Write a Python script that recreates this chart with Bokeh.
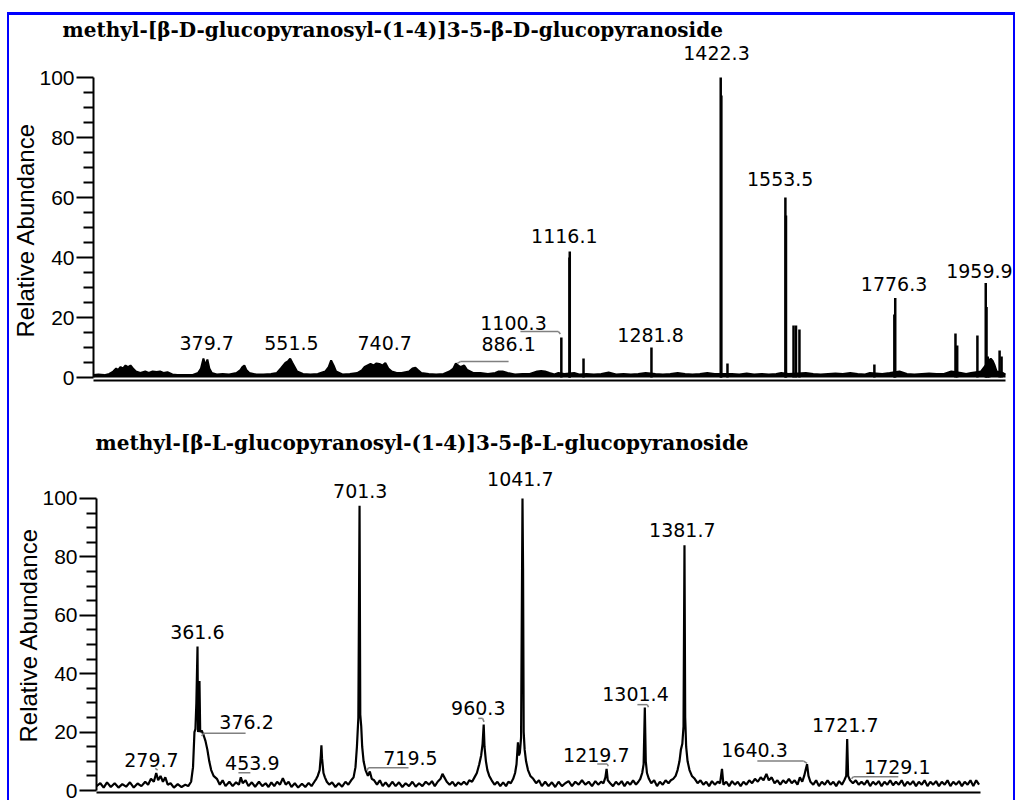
from bokeh.plotting import figure
from bokeh.models import FixedTicker, LabelSet, ColumnDataSource, Range1d, Title
from bokeh.layouts import column
from bokeh.embed import file_html
from bokeh.resources import INLINE
from bokeh.core.properties import value

# ---------------- data ----------------
top_title = "methyl-[β-D-glucopyranosyl-(1-4)]3-5-β-D-glucopyranoside"
bottom_title = "methyl-[β-L-glucopyranosyl-(1-4)]3-5-β-L-glucopyranoside"
y_label = "Relative Abundance"
y_ticks = [0, 20, 40, 60, 80, 100]
y_minor = [5, 10, 15, 25, 30, 35, 45, 50, 55, 65, 70, 75, 85, 90, 95]
mz_range = [150, 2000]

# top spectrum: centroid sticks
top_mz = [1099.0, 1115.5, 1116.1, 1144.0, 1281.8, 1422.3, 1423.6, 1436.0,
          1553.5, 1554.7, 1570.0, 1575.0, 1582.0, 1734.0, 1774.5, 1776.3,
          1898.5, 1902.0, 1943.0, 1959.9, 1961.5, 1964.0, 1967.0, 1988.0, 1992.0]
top_int = [13.3, 40.0, 42.0, 6.3, 10.0, 100.0, 94.0, 4.7,
           60.0, 54.0, 17.3, 17.3, 16.0, 4.3, 21.0, 26.5,
           14.7, 10.7, 14.0, 31.5, 23.5, 7.0, 6.0, 9.0, 7.0]

# top spectrum: low-level background
top_noise_mz = [150, 160, 172, 182, 190, 196, 200, 205, 210, 215, 220, 225, 230, 236, 245, 255,
                262, 270, 278, 285, 292, 300, 310, 320, 335, 350, 362, 368, 373, 377, 381, 385,
                390, 400, 412, 425, 440, 448, 452, 456, 460, 466, 480, 495, 510, 522, 530, 535,
                540, 545, 549, 553, 558, 563, 575, 590, 605, 620, 627, 632, 637, 642, 655, 670,
                685, 695, 700, 706, 712, 718, 724, 730, 736, 742, 748, 755, 765, 775, 790, 797,
                803, 808, 815, 830, 845, 860, 872, 880, 885, 890, 895, 902, 908, 920, 935, 950,
                965, 972, 980, 990, 1005, 1020, 1035, 1050, 1058, 1066, 1075, 1085, 1093, 1105,
                1125, 1135, 1150, 1165, 1180, 1195, 1210, 1225, 1240, 1255, 1270, 1290, 1305,
                1320, 1335, 1350, 1365, 1380, 1395, 1410, 1445, 1460, 1475, 1490, 1505, 1520,
                1535, 1545, 1560, 1595, 1610, 1625, 1640, 1655, 1670, 1685, 1700, 1715, 1725,
                1750, 1765, 1785, 1800, 1815, 1830, 1845, 1860, 1875, 1890, 1910, 1920, 1930,
                1950, 1970, 1974, 1978, 1982, 1995, 2000]
top_noise_int = [0.8, 1.0, 0.8, 1.2, 2.0, 3.0, 2.5, 3.5, 3.0, 4.0, 3.5, 4.0, 3.0, 2.0, 1.5, 2.0,
                 1.5, 2.0, 1.8, 2.0, 1.5, 1.8, 1.0, 0.8, 0.8, 0.8, 1.5, 3.0, 6.3, 4.0, 6.0, 3.0,
                 1.5, 1.0, 1.2, 1.0, 1.5, 2.5, 3.5, 4.0, 2.5, 1.5, 1.0, 1.0, 1.2, 1.5, 3.0, 4.0,
                 5.0, 5.5, 6.3, 5.0, 3.5, 2.0, 1.2, 1.0, 1.2, 2.0, 3.5, 5.7, 4.0, 2.0, 1.0, 1.2,
                 1.5, 2.5, 3.5, 4.0, 4.5, 4.0, 4.7, 4.5, 4.0, 4.8, 3.0, 2.0, 1.5, 1.5, 2.0, 3.0,
                 3.3, 2.5, 1.5, 1.2, 1.0, 1.2, 2.0, 3.0, 4.7, 4.0, 3.5, 4.0, 2.5, 1.5, 1.5, 1.2,
                 1.5, 2.0, 2.0, 1.5, 1.0, 1.2, 1.2, 2.0, 2.2, 2.0, 1.5, 1.0, 1.5, 1.2,
                 1.5, 1.0, 1.2, 1.0, 1.2, 1.7, 1.0, 1.2, 1.0, 1.2, 1.5, 1.2, 1.0,
                 1.2, 1.5, 1.2, 1.0, 1.2, 1.5, 1.2, 1.2, 1.0, 1.3, 1.0, 1.2, 1.0,
                 1.2, 1.5, 1.2, 1.5, 1.2, 1.0, 1.2, 1.3, 1.2, 1.5, 1.2, 1.0, 1.5,
                 1.2, 1.5, 2.0, 1.2, 1.0, 1.2, 1.3, 1.2, 1.2, 2.0, 1.5, 1.2, 1.5,
                 2.0, 6.3, 5.5, 4.0, 2.0, 1.5, 1.0]

top_lab_x = [379.7, 551.5, 740.7, 992.0, 1002.0, 1105.0, 1280.0, 1413.7, 1543.0, 1774.0, 1947.0]
top_lab_y = [9.3, 9.3, 9.3, 9.0, 15.7, 44.7, 12.0, 105.7, 64.0, 29.0, 33.3]
top_lab_text = ["379.7", "551.5", "740.7", "886.1", "1100.3", "1116.1", "1281.8",
                "1422.3", "1553.5", "1776.3", "1959.9"]
top_lead_x0 = [1016, 1093, 894, 888]
top_lead_y0 = [15.3, 15.3, 5.3, 4.7]
top_lead_x1 = [1093, 1097, 992, 894]
top_lead_y1 = [15.3, 14.5, 5.3, 5.3]

# bottom spectrum: profile trace
bot_mz = [150, 158, 165, 172, 180, 188, 196, 204, 212, 220, 228, 236, 244, 252, 258, 264, 270, 275,
          279, 284, 289, 294, 299, 305, 312, 320, 328, 336, 342, 348, 352, 355, 357, 359, 361.4,
          362.5, 364, 365.5, 367, 370, 374, 378, 382, 386, 390, 395, 402, 408, 414, 420, 428,
          435, 442, 448, 452, 456, 462, 468, 475, 482, 490, 497, 504, 510, 516, 522, 528, 534,
          540, 546, 552, 558, 565, 572, 580, 587, 594, 600, 606, 610, 613, 617, 619.5, 620.7,
          622, 625, 628, 632, 637, 643, 650, 657, 664, 671, 677, 683, 688, 692, 695, 698, 700.5,
          702, 704, 706, 709, 713, 718, 722, 726, 731, 737, 743, 749, 755, 762, 769, 776, 783,
          790, 797, 804, 811, 818, 825, 832, 839, 846, 852, 858, 864, 870, 874, 878, 883, 889,
          895, 901, 907, 913, 919, 925, 930, 936, 941, 946, 951, 955, 958, 960.3, 962, 965, 968,
          972, 977, 983, 989, 995, 1001, 1007, 1012, 1017, 1022, 1026, 1029, 1032, 1034, 1036,
          1038.5, 1041.5, 1042.7, 1044, 1046, 1049, 1053, 1058, 1064, 1070, 1076, 1082, 1089,
          1096, 1103, 1110, 1117, 1124, 1131, 1138, 1145, 1152, 1159, 1166, 1173, 1180, 1187,
          1194, 1200, 1206, 1211, 1215, 1217.5, 1220, 1225, 1231, 1237, 1243, 1249, 1255, 1261,
          1267, 1273, 1279, 1284, 1288, 1292, 1295, 1297.5, 1299.5, 1302, 1306, 1311, 1317,
          1323, 1329, 1335, 1341, 1347, 1352, 1357, 1362, 1366, 1370, 1373, 1376, 1378.5,
          1380.5, 1382, 1384, 1387, 1391, 1396, 1402, 1408, 1414, 1420, 1426, 1432, 1438, 1444,
          1450, 1455, 1459, 1462, 1468, 1474, 1480, 1486, 1492, 1498, 1504, 1510, 1516, 1522,
          1528, 1534, 1540, 1546, 1552, 1557, 1563, 1569, 1575, 1581, 1587, 1593, 1599, 1605,
          1611, 1617, 1622, 1627, 1631, 1634, 1637, 1640, 1644, 1650, 1656, 1662, 1668, 1674,
          1680, 1686, 1692, 1698, 1704, 1710, 1715, 1719, 1721, 1723, 1727, 1733, 1739, 1745,
          1751, 1757, 1763, 1769, 1775, 1781, 1787, 1793, 1799, 1805, 1811, 1817, 1823, 1829,
          1835, 1841, 1847, 1853, 1859, 1865, 1871, 1877, 1883, 1889, 1895, 1901, 1907, 1913,
          1919, 1925, 1931, 1937, 1943, 1949, 1955, 1961, 1967, 1973, 1979, 1985, 1991, 1997]
bot_int = [1.5, 2.5, 1.0, 2.8, 1.2, 2.5, 1.0, 2.2, 1.3, 2.8, 1.0, 2.4, 1.5, 3.0, 2.0, 4.0, 3.0, 6.0,
           3.5, 5.0, 3.0, 4.5, 2.0, 2.5, 1.0, 2.2, 1.2, 2.0, 1.5, 3.0, 8.0, 20.0, 21.0, 30.0, 49.3,
           20.0, 21.0, 37.5, 20.0, 20.6, 19.0, 17.0, 14.0, 10.0, 7.0, 5.0, 4.0, 2.0, 3.5, 1.5, 3.0,
           1.5, 2.8, 2.0, 4.5, 2.5, 3.5, 1.5, 2.8, 1.3, 3.0, 1.5, 2.5, 1.2, 2.8, 1.5, 3.0, 2.0,
           4.2, 2.0, 3.0, 1.2, 2.5, 1.0, 2.3, 1.2, 2.6, 1.5, 3.0, 4.0, 5.0, 7.0, 12.0, 15.5,
           11.0, 6.0, 4.5, 3.0, 2.0, 2.8, 1.2, 2.5, 1.3, 3.0, 2.0, 3.5, 4.5, 8.0, 15.0, 25.0, 97.5,
           26.0, 22.0, 15.0, 10.0, 7.0, 5.0, 6.5, 4.0, 3.5, 2.0, 3.5, 1.5, 2.8, 1.3, 3.0, 1.5, 2.8,
           1.2, 2.5, 1.5, 3.0, 1.3, 2.5, 1.5, 3.0, 2.0, 3.2, 1.5, 3.0, 4.0, 5.7, 4.5, 3.0, 2.0,
           3.0, 1.5, 2.8, 2.0, 3.0, 2.0, 3.5, 3.0, 4.5, 6.0, 9.0, 12.0, 16.0, 22.6, 15.0, 10.0, 7.0,
           5.0, 3.5, 2.0, 3.0, 1.5, 2.8, 1.5, 3.0, 2.5, 4.0, 6.0, 9.0, 16.5, 12.0, 13.0,
           18.0, 100.0, 76.0, 20.0, 14.0, 10.0, 7.0, 5.0, 4.0, 2.5, 3.5, 1.5, 3.0,
           1.5, 2.8, 1.2, 3.0, 1.5, 2.5, 3.2, 1.5, 3.0, 2.0, 3.5, 2.0, 3.0, 1.5,
           3.2, 2.0, 3.0, 2.5, 4.5, 7.4, 3.5, 2.5, 1.5, 3.0, 2.0, 3.2, 1.5, 3.0,
           2.0, 3.5, 2.0, 3.0, 4.0, 6.0, 9.0, 28.4, 10.0, 6.0, 4.0, 2.5, 3.5,
           1.5, 3.0, 2.0, 3.5, 2.5, 3.5, 4.0, 5.0, 7.0, 10.0, 14.0, 16.0, 22.0,
           84.0, 25.0, 15.0, 10.0, 7.0, 5.0, 4.0, 2.5, 3.5, 2.0, 3.0, 1.5, 3.2, 2.0,
           3.0, 2.5, 7.4, 2.0, 3.0, 1.5, 3.2, 2.0, 3.0, 1.5, 3.0, 2.0, 3.5, 2.5,
           4.0, 3.0, 4.5, 3.5, 5.7, 3.5, 4.5, 2.5, 3.5, 2.0, 3.5, 2.5, 4.0, 2.5,
           3.5, 2.0, 4.5, 3.0, 5.0, 7.0, 9.0, 5.0, 3.0, 2.0, 3.5, 1.5, 3.0, 2.0,
           3.5, 2.0, 3.0, 1.5, 3.2, 2.0, 3.5, 5.0, 17.6, 5.0, 3.5, 2.5, 3.5, 2.0,
           3.0, 2.0, 3.5, 1.5, 3.0, 2.0, 3.2, 1.5, 3.0, 2.0, 3.5, 1.8, 3.0, 2.0,
           3.5, 1.5, 3.0, 2.0, 3.2, 1.5, 3.0, 2.0, 3.5, 1.5, 3.0, 2.0, 3.2, 1.5,
           3.0, 2.0, 3.5, 1.5, 3.0, 2.0, 3.2, 1.5, 3.0, 2.0, 3.5, 1.5, 3.5, 2.0]

bot_lab_x = [265, 361, 464, 476, 702, 807, 949, 1037, 1196, 1278, 1376, 1527, 1717, 1826]
bot_lab_y = [8.1, 52.0, 21.0, 7.0, 100.3, 8.8, 25.7, 104.4, 9.8, 30.7, 86.8, 11.5, 20.0, 5.7]
bot_lab_text = ["279.7", "361.6", "376.2", "453.9", "701.3", "719.5", "960.3", "1041.7",
                "1219.7", "1301.4", "1381.7", "1640.3", "1721.7", "1729.1"]
bot_lead_x0 = [273, 370, 374, 447, 716, 719, 949, 958, 1198, 1219, 1282, 1303, 1533, 1630, 1730, 1734]
bot_lead_y0 = [7.6, 18.6, 19.6, 6.1, 6.8, 7.8, 24.7, 24.7, 9.1, 9.1, 29.4, 29.4, 10.1, 10.1, 4.0, 4.7]
bot_lead_x1 = [278, 374, 462, 472, 719, 803, 958, 961, 1219, 1221, 1303, 1305, 1630, 1637, 1734, 1828]
bot_lead_y1 = [7.0, 19.6, 19.6, 6.1, 7.8, 7.8, 24.7, 23.5, 9.1, 8.3, 29.4, 28.5, 10.1, 9.3, 4.7, 4.7]

# ---------------- styling helpers ----------------
NUM_FONT = "DejaVu Sans"
AX_FONT = "Liberation Sans"


def make_panel(title, height, bl, bt, br, bb, x_hi, y_lo, y_hi, title_offset, title_standoff, ylab_offset):
    p = figure(width=1004, height=height, output_backend="svg", toolbar_location=None,
               x_range=Range1d(mz_range[0], x_hi), y_range=Range1d(y_lo, y_hi),
               min_border_left=bl, min_border_top=bt, min_border_right=br, min_border_bottom=bb,
               background_fill_color="white", border_fill_color="white")
    p.frame_align = False
    p.outline_line_color = None
    p.grid.visible = False
    p.title.text = title
    p.title.text_font = "DejaVu Serif"
    p.title.text_font_style = "bold"
    p.title.text_font_size = "20px"
    p.title.text_color = "black"
    p.title.align = "left"
    p.title.offset = title_offset
    p.title.standoff = title_standoff

    ya = p.yaxis[0]
    ya.ticker = FixedTicker(ticks=y_ticks, minor_ticks=y_minor)
    ya.bounds = (0, 100)
    ya.major_label_text_font = AX_FONT
    ya.major_label_text_font_size = "21px"
    ya.major_label_text_color = "black"
    ya.major_label_standoff = 2
    ya.major_tick_out = 17
    ya.major_tick_in = 0
    ya.minor_tick_out = 10
    ya.minor_tick_in = 0
    ya.axis_line_width = 2
    ya.major_tick_line_width = 2
    ya.minor_tick_line_width = 2

    # y-axis title, placed in the left panel beside the axis
    p.add_layout(Title(text=y_label, align="left", offset=ylab_offset, standoff=-4,
                       text_font=AX_FONT, text_font_size="24px", text_font_style="normal",
                       text_color="black"), "left")

    xa = p.xaxis[0]
    xa.ticker = FixedTicker(ticks=[])
    xa.bounds = (mz_range[0], mz_range[1])
    xa.major_tick_out = 0
    xa.major_tick_in = 0
    xa.minor_tick_out = 0
    xa.minor_tick_in = 0
    xa.major_label_text_font_size = "0px"
    xa.major_label_standoff = 0
    xa.axis_line_width = 2
    return p


def add_labels(p, xs, ys, texts, lx0, ly0, lx1, ly1):
    p.segment(x0=lx0, y0=ly0, x1=lx1, y1=ly1, line_color="#808080", line_width=1.5)
    src = ColumnDataSource(dict(x=xs, y=ys, text=texts))
    p.add_layout(LabelSet(x="x", y="y", text="text", source=src, text_align="center",
                          text_baseline="alphabetic", text_font=value(NUM_FONT),
                          text_font_size="19px", text_color="black"))


# ---------------- top panel ----------------
# frame reaches 8 px past m/z 2000 so the last label is not clipped
p1 = make_panel(top_title, 400, 84, 26, 0, 35, 2016.2, -1.0, 112.0, -31, 0, 43)
p1.varea(x=top_noise_mz, y1=[0] * len(top_noise_mz), y2=top_noise_int, fill_color="black")
p1.line(x=top_noise_mz, y=top_noise_int, line_color="black", line_width=2)
p1.segment(x0=top_mz, y0=[0] * len(top_mz), x1=top_mz, y1=top_int, line_color="black", line_width=2.5)
add_labels(p1, top_lab_x, top_lab_y, top_lab_text, top_lead_x0, top_lead_y0, top_lead_x1, top_lead_y1)

# ---------------- bottom panel ----------------
p2 = make_panel(bottom_title, 385, 87, 52, 33, 8, mz_range[1], -0.68, 110.6, -1, 26, 50)
p2.line(x=bot_mz, y=bot_int, line_color="black", line_width=2.2)
add_labels(p2, bot_lab_x, bot_lab_y, bot_lab_text, bot_lead_x0, bot_lead_y0, bot_lead_x1, bot_lead_y1)

layout = column(p1, p2, spacing=0,
                styles={"border-top": "3px solid #0000ff", "border-left": "2px solid #0000ff",
                        "border-right": "2px solid #0000ff", "margin-top": "12px",
                        "margin-left": "7px"})

open("out.html", "w").write(file_html(layout, INLINE))
